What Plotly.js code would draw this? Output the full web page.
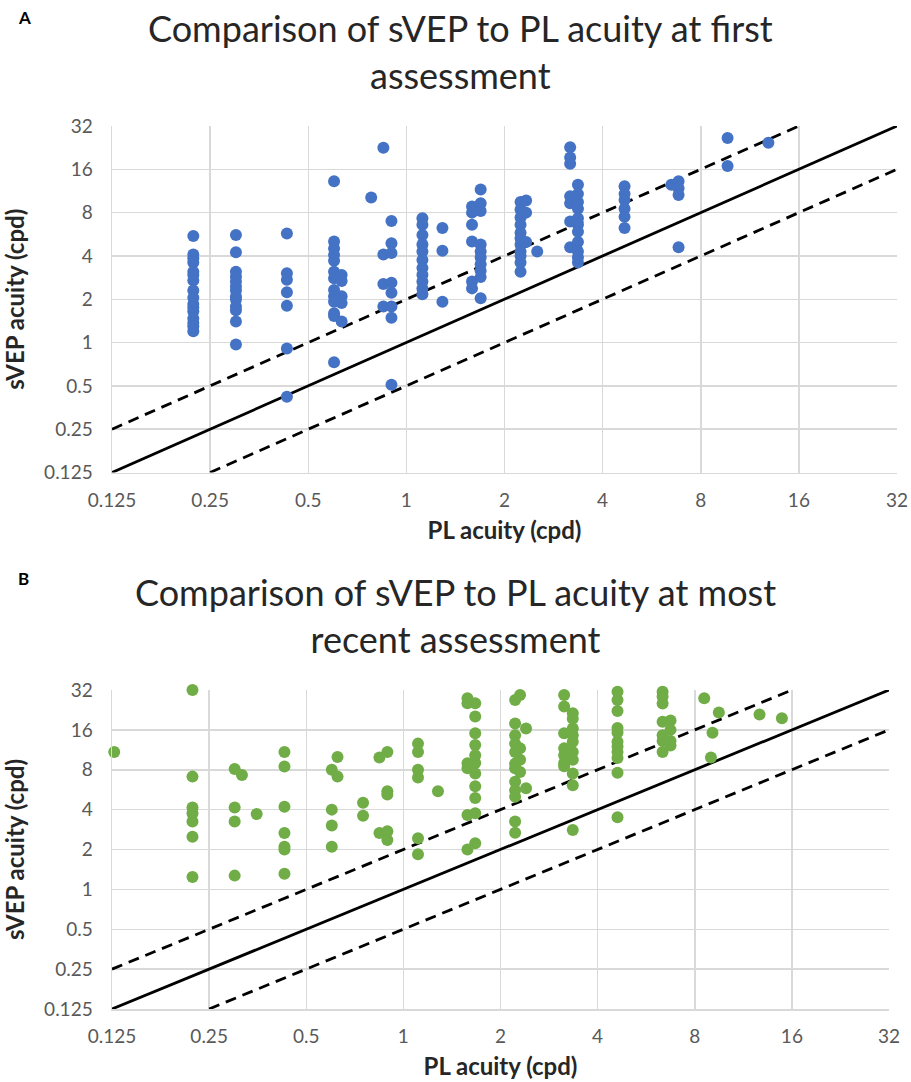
<!DOCTYPE html>
<html>
<head>
<meta charset="utf-8">
<script src="https://cdn.plot.ly/plotly-3.0.1.min.js"></script>
<style>
  html, body { margin: 0; padding: 0; background: #ffffff; }
  #chart { width: 911px; height: 1082px; }
</style>
</head>
<body>
<div id="chart"></div>
<script>
// Axis ticks (cpd, log2 spacing)
const tickValues = [0.125, 0.25, 0.5, 1, 2, 4, 8, 16, 32];
const tickLabels = ["0.125", "0.25", "0.5", "1", "2", "4", "8", "16", "32"];

// Reference lines: equality and ±1 octave
const equalX = [0.125, 32];
const equalY = [0.125, 32];
const upperX = [0.125, 16];
const upperY = [0.25, 32];
const lowerX = [0.25, 32];
const lowerY = [0.125, 16];

// Panel A: first assessment (PL acuity per column, sVEP acuity values)
const firstPL = [0.222, 0.30, 0.43, 0.60, 0.633, 0.78, 0.85, 0.90, 1.12, 1.29, 1.59, 1.69, 2.24, 2.33, 2.52, 3.18, 3.36, 4.67, 6.5, 6.84, 9.67, 12.9];
const firstVEP = [
  [5.5, 4.1, 3.85, 3.6, 3.1, 2.95, 2.7, 2.3, 2.05, 1.85, 1.75, 1.65, 1.47, 1.37, 1.3, 1.2],
  [5.6, 4.24, 3.1, 2.87, 2.66, 2.45, 2.3, 2.09, 1.99, 1.78, 1.68, 1.40, 0.97],
  [5.72, 3.03, 2.73, 2.24, 1.80, 0.91, 0.42],
  [13.2, 5.04, 4.5, 4.06, 3.7, 3.1, 2.8, 2.32, 2.1, 1.92, 1.6, 1.53, 0.73],
  [2.95, 2.68, 2.1, 1.88, 1.40],
  [10.2],
  [22.6, 4.1, 2.55, 1.78],
  [7.0, 4.9, 4.2, 2.6, 2.22, 1.78, 1.49, 0.51],
  [7.3, 6.6, 5.6, 4.8, 4.3, 3.75, 3.3, 2.96, 2.66, 2.38, 2.17],
  [6.25, 4.35, 1.92],
  [8.84, 8.0, 6.6, 5.04, 2.66, 2.38],
  [11.6, 9.3, 8.2, 4.8, 4.3, 3.9, 3.5, 3.15, 2.85, 2.03],
  [9.5, 8.4, 7.4, 6.6, 5.8, 5.3, 4.8, 4.3, 4.0, 3.6, 3.1],
  [9.7, 8.0, 5.0],
  [4.3],
  [22.8, 19.3, 17.5, 10.4, 9.3, 6.95, 4.6],
  [12.5, 10.8, 9.5, 8.5, 7.3, 6.6, 5.9, 5.0, 4.3, 3.9, 3.6],
  [12.2, 10.8, 9.8, 8.5, 7.5, 6.25],
  [12.5],
  [13.2, 11.8, 10.6, 4.6],
  [26.4, 16.9],
  [24.5]
];

// Panel B: most recent assessment
const recentPL = [0.127, 0.222, 0.30, 0.316, 0.351, 0.428, 0.60, 0.625, 0.75, 0.843, 0.892, 1.11, 1.28, 1.58, 1.67, 2.22, 2.3, 2.4, 3.15, 3.35, 4.61, 6.36, 6.73, 8.56, 8.98, 9.08, 9.5, 12.7, 14.9];
const recentVEP = [
  [10.9],
  [32, 7.1, 4.15, 3.76, 3.25, 2.5, 1.24],
  [8.1, 4.15, 3.25, 1.27],
  [7.3],
  [3.7],
  [10.9, 8.45, 4.2, 2.66, 2.1, 2.0, 1.31],
  [8.0, 4.0, 3.03, 2.1],
  [10.0, 7.1],
  [4.5, 3.6],
  [9.9, 2.66],
  [10.9, 5.5, 5.2, 2.75, 2.36],
  [12.6, 10.9, 8.0, 7.0, 2.43, 1.84],
  [5.5],
  [27.7, 25.4, 8.96, 8.2, 3.64, 2.0],
  [25.4, 20.2, 15.1, 12.3, 10.3, 9.0, 7.5, 6.0, 4.9, 3.76, 2.23],
  [26.9, 17.9, 14.6, 12.6, 10.9, 8.9, 8.2, 6.5, 5.6, 5.0, 3.25, 2.68],
  [29.3, 11.6, 9.5, 7.7],
  [16.4, 5.8],
  [29.3, 24.0, 15.1, 11.6, 10.3, 9.0, 8.5],
  [21.4, 19.4, 16.4, 14.6, 13.0, 10.9, 9.5, 7.5, 6.1, 2.81],
  [31.1, 26.9, 22.2, 16.5, 15.3, 13.0, 12.0, 10.9, 9.8, 7.6, 3.5],
  [31.1, 28.6, 25.3, 18.4, 14.6, 13.2, 10.9],
  [18.8, 16, 13.2, 12.2],
  [27.7],
  [9.9],
  [15.2],
  [21.6],
  [20.9],
  [19.6]
];

function flatten(plCols, vepCols) {
  const xs = [], ys = [];
  plCols.forEach(function (pl, i) {
    vepCols[i].forEach(function (v) { xs.push(pl); ys.push(v); });
  });
  return { x: xs, y: ys };
}

const firstPts = flatten(firstPL, firstVEP);
const recentPts = flatten(recentPL, recentVEP);

const FONT = "Lato, 'Open Sans', 'Liberation Sans', sans-serif";
const lineStyle = { color: "#000000", width: 2.8 };
const dashStyle = { color: "#000000", width: 2.8, dash: "11px,7px" };

function refLines(xa, ya) {
  return [
    { x: equalX, y: equalY, xaxis: xa, yaxis: ya, mode: "lines", line: lineStyle, hoverinfo: "skip", showlegend: false },
    { x: upperX, y: upperY, xaxis: xa, yaxis: ya, mode: "lines", line: dashStyle, hoverinfo: "skip", showlegend: false },
    { x: lowerX, y: lowerY, xaxis: xa, yaxis: ya, mode: "lines", line: dashStyle, hoverinfo: "skip", showlegend: false }
  ];
}

const data = [].concat(
  refLines("x", "y"),
  [{ x: firstPts.x, y: firstPts.y, xaxis: "x", yaxis: "y", mode: "markers", type: "scatter", cliponaxis: false,
     marker: { color: "#4472C4", size: 12 }, showlegend: false, name: "First assessment" }],
  refLines("x2", "y2"),
  [{ x: recentPts.x, y: recentPts.y, xaxis: "x2", yaxis: "y2", mode: "markers", type: "scatter", cliponaxis: false,
     marker: { color: "#70AD47", size: 12 }, showlegend: false, name: "Most recent assessment" }]
);

const logRange = [Math.log10(0.125), Math.log10(32)];

function axis(domain, titleText, isX, anchor) {
  return {
    type: "log",
    domain: domain,
    anchor: anchor,
    range: logRange,
    tickmode: "array",
    tickvals: tickValues,
    ticktext: tickLabels,
    showgrid: true,
    gridcolor: "#d9d9d9",
    gridwidth: 1.5,
    zeroline: false,
    showline: true,
    linecolor: "#d9d9d9",
    linewidth: 1.5,
    mirror: false,
    ticks: "",
    ticklabelstandoff: isX ? 10 : 14,
    tickfont: { family: FONT, size: 19, color: "#595959" },
    title: { text: titleText, font: { family: FONT, size: 24, color: "#262626", weight: "bold" }, standoff: isX ? 12 : 14 },
    fixedrange: true
  };
}

const H = 1082, W = 911;
const layout = {
  width: W,
  height: H,
  margin: { l: 0, r: 0, t: 0, b: 0 },
  paper_bgcolor: "#ffffff",
  plot_bgcolor: "#ffffff",
  showlegend: false,
  font: { family: FONT },
  xaxis: axis([112 / W, 897 / W], "<b>PL acuity (cpd)</b>", true, "y"),
  yaxis: axis([1 - 472.5 / H, 1 - 126 / H], "<b>sVEP acuity (cpd)</b>", false, "x"),
  xaxis2: axis([112 / W, 889 / W], "<b>PL acuity (cpd)</b>", true, "y2"),
  yaxis2: axis([1 - 1009 / H, 1 - 690 / H], "<b>sVEP acuity (cpd)</b>", false, "x2"),
  annotations: [
    { text: "<b>A</b>", x: 16 / W, y: 1 - 18 / H, xref: "paper", yref: "paper", xanchor: "left", yanchor: "middle",
      showarrow: false, font: { family: FONT, size: 17, color: "#000000" } },
    { text: "<b>B</b>", x: 16 / W, y: 1 - 578 / H, xref: "paper", yref: "paper", xanchor: "left", yanchor: "middle",
      showarrow: false, font: { family: FONT, size: 17, color: "#000000" } },
    { text: "Comparison of sVEP to PL acuity at first<br>assessment", x: 460 / W, y: 1 - 51 / H,
      xref: "paper", yref: "paper", xanchor: "center", yanchor: "middle", showarrow: false, align: "center",
      font: { family: FONT, size: 36, color: "#262626", weight: 400 } },
    { text: "Comparison of sVEP to PL acuity at most<br>recent assessment", x: 455 / W, y: 1 - 615 / H,
      xref: "paper", yref: "paper", xanchor: "center", yanchor: "middle", showarrow: false, align: "center",
      font: { family: FONT, size: 36, color: "#262626", weight: 400 } }
  ]
};

Plotly.newPlot("chart", data, layout, { staticPlot: true, displayModeBar: false });
</script>
</body>
</html>
